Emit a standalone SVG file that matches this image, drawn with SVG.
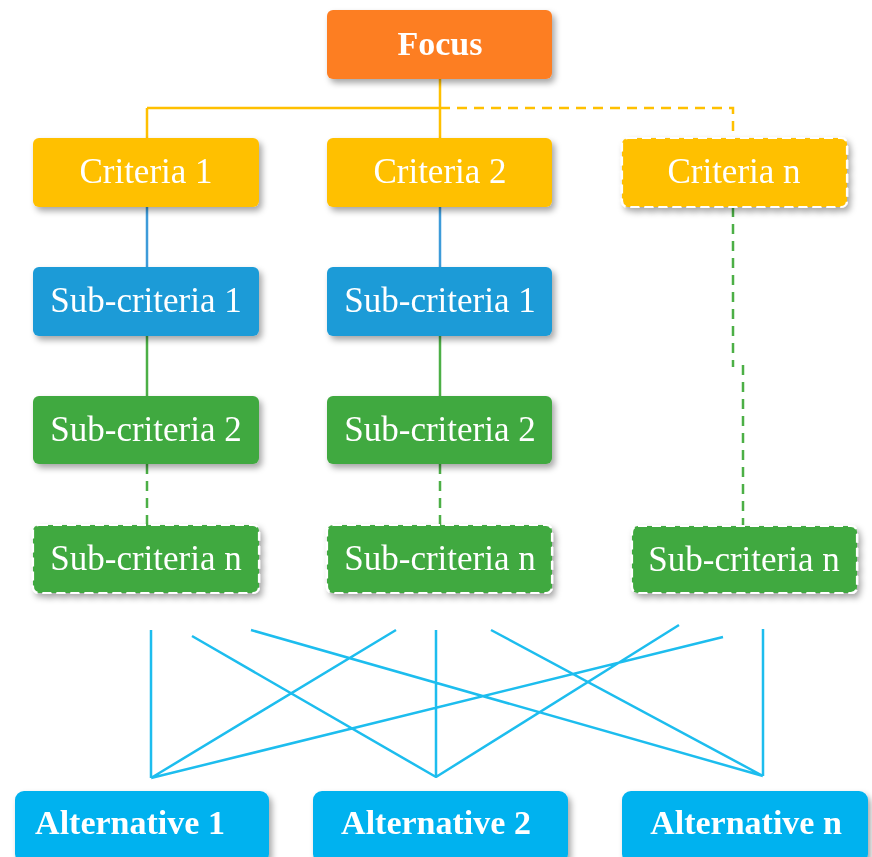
<svg xmlns="http://www.w3.org/2000/svg" width="872" height="857" viewBox="0 0 872 857">
<style>
.t{font-family:"Liberation Serif","Times New Roman",serif;fill:#fff;text-anchor:middle;font-size:35px}
.b{font-weight:bold;font-size:34px}
.focus{fill:#FD7E24}
.crit{fill:#FFC000}
.sub1{fill:#1A9BD7}
.sub2{fill:#41A93F}
.alt{fill:#00B2EF}
.dash{stroke:#fff;stroke-width:2.2;stroke-dasharray:9 5}
.cy{stroke:#FFC000;stroke-width:2.5;fill:none}
.cb{stroke:#3D9BD9;stroke-width:2.5;fill:none}
.cg{stroke:#4CAF46;stroke-width:2.5;fill:none}
.gd{stroke-dasharray:10 7}
.yd{stroke-dasharray:10 7}
.cc{stroke:#1DBDEE;stroke-width:2.5;fill:none}
</style>
<defs>
<filter id="sh" x="-10%" y="-20%" width="125%" height="150%">
<feDropShadow dx="3" dy="4" stdDeviation="3" flood-color="#000" flood-opacity="0.35"/>
</filter>
</defs>
<rect width="872" height="857" fill="#fff"/>
<g id="connectors">
<path class="cy" d="M440 79V138M147 108H440V138M147 108V138"/>
<path class="cy yd" d="M440 108H733V138"/>
<path class="cb" d="M147 207V267M440 207V267"/>
<path class="cg" d="M147 336V396M440 336V396"/>
<path class="cg gd" d="M147 464V525M440 464V525M733 207V367M743 365V526"/>
<path class="cc" d="M151 630V778M192 636L436 777M251 630L763 776M396 630L151 778M436 630V777M491 630L763 776M679 625L436 777M723 637L151 778M763 629V776"/>
</g>
<g id="focus" filter="url(#sh)"><rect class="focus" x="327" y="10" width="225" height="69" rx="6"/><text class="t b" x="440" y="55">Focus</text></g>
<g id="criteria1" filter="url(#sh)"><rect class="crit" x="33" y="138" width="226" height="69" rx="6"/><text class="t" x="146" y="183">Criteria 1</text></g>
<g id="criteria2" filter="url(#sh)"><rect class="crit" x="327" y="138" width="225" height="69" rx="6"/><text class="t" x="440" y="183">Criteria 2</text></g>
<g id="criteriaN" filter="url(#sh)"><rect class="crit dash" x="622" y="138" width="225" height="69" rx="6"/><text class="t" x="734" y="183">Criteria n</text></g>
<g id="sub1a" filter="url(#sh)"><rect class="sub1" x="33" y="267" width="226" height="69" rx="6"/><text class="t" x="146" y="312">Sub-criteria 1</text></g>
<g id="sub1b" filter="url(#sh)"><rect class="sub1" x="327" y="267" width="225" height="69" rx="6"/><text class="t" x="440" y="312">Sub-criteria 1</text></g>
<g id="sub2a" filter="url(#sh)"><rect class="sub2" x="33" y="396" width="226" height="68" rx="6"/><text class="t" x="146" y="441">Sub-criteria 2</text></g>
<g id="sub2b" filter="url(#sh)"><rect class="sub2" x="327" y="396" width="225" height="68" rx="6"/><text class="t" x="440" y="441">Sub-criteria 2</text></g>
<g id="subna" filter="url(#sh)"><rect class="sub2 dash" x="33" y="525" width="226" height="68" rx="6"/><text class="t" x="146" y="570">Sub-criteria n</text></g>
<g id="subnb" filter="url(#sh)"><rect class="sub2 dash" x="327" y="525" width="225" height="68" rx="6"/><text class="t" x="440" y="570">Sub-criteria n</text></g>
<g id="subnc" filter="url(#sh)"><rect class="sub2 dash" x="632" y="526" width="225" height="67" rx="6"/><text class="t" x="744" y="571">Sub-criteria n</text></g>
<g id="alt1" filter="url(#sh)"><rect class="alt" x="15" y="791" width="254" height="72" rx="9"/><text class="t b" x="130" y="834">Alternative 1</text></g>
<g id="alt2" filter="url(#sh)"><rect class="alt" x="313" y="791" width="255" height="72" rx="9"/><text class="t b" x="436" y="834">Alternative 2</text></g>
<g id="altn" filter="url(#sh)"><rect class="alt" x="622" y="791" width="246" height="72" rx="9"/><text class="t b" x="746" y="834">Alternative n</text></g>
</svg>
